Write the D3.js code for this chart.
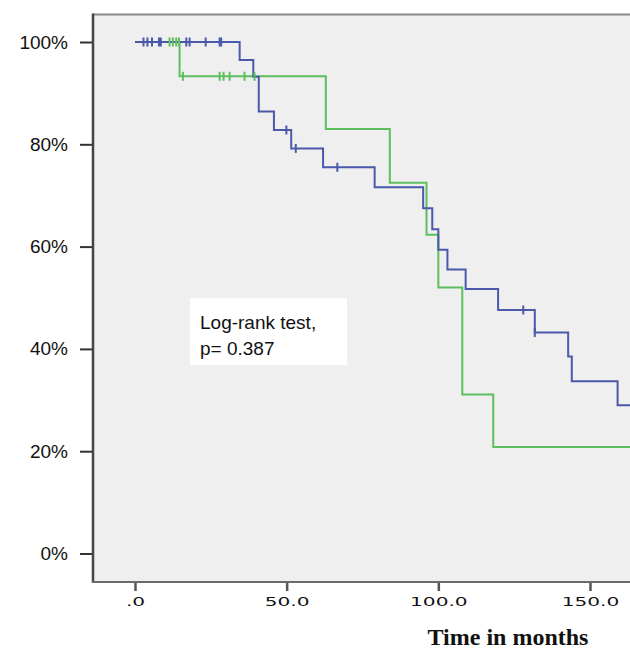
<!DOCTYPE html>
<html>
<head>
<meta charset="utf-8">
<script src="https://cdn.jsdelivr.net/npm/d3@7"></script>
<style>
  html, body { margin: 0; padding: 0; background: #ffffff; }
  svg { display: block; }
</style>
</head>
<body>
<div id="chart"></div>
<script>
// ---- Data ----
// Kaplan-Meier step points: [time in months, cumulative survival]
const blueSteps = [
  [0, 1.0], [34.5, 0.965], [39.0, 0.932], [40.8, 0.864], [45.8, 0.828],
  [51.5, 0.792], [62.0, 0.755], [79.0, 0.716], [95.0, 0.675], [98.0, 0.634],
  [100.0, 0.594], [103.0, 0.555], [109.0, 0.517], [119.7, 0.476],
  [131.8, 0.432], [142.8, 0.385], [144.0, 0.337], [159.1, 0.290]
];
const blueEnd = 166;
const blueCensored = [
  [2.8, 1.0], [4.1, 1.0], [5.6, 1.0], [7.9, 1.0], [8.5, 1.0], [16.9, 1.0],
  [18.0, 1.0], [23.3, 1.0], [27.9, 1.0], [28.4, 1.0],
  [49.9, 0.828], [53.0, 0.792], [66.7, 0.755], [128.0, 0.476], [131.8, 0.432]
];

const greenSteps = [
  [0, 1.0], [14.7, 0.933], [62.9, 0.830], [84.0, 0.725], [96.1, 0.623],
  [100.0, 0.520], [107.9, 0.311], [118.1, 0.208]
];
const greenEnd = 166;
const greenCensored = [
  [11.4, 1.0], [12.5, 1.0], [13.6, 1.0], [14.5, 1.0],
  [15.8, 0.933], [27.9, 0.933], [29.2, 0.933], [31.2, 0.933], [36.1, 0.933], [39.4, 0.933]
];

const xTicks = [0, 50, 100, 150];
const xTickLabels = [".0", "50.0", "100.0", "150.0"];
const yTicks = [0, 0.2, 0.4, 0.6, 0.8, 1.0];
const yTickLabels = ["0%", "20%", "40%", "60%", "80%", "100%"];
const xTitle = "Time in months";
const annotation = ["Log-rank test,", "p= 0.387"];

// ---- Layout ----
const W = 630, H = 649;
const frame = { left: 93, top: 14, right: 660, bottom: 582 };
const blueColor = "#4a59aa";
const greenColor = "#5dbf5d";

const x = d3.scaleLinear().domain([0, 150]).range([135, 590]);
const y = d3.scaleLinear().domain([0, 1]).range([553.5, 42]);

const svg = d3.select("#chart").append("svg")
  .attr("width", W).attr("height", H);

// plot background
svg.append("rect")
  .attr("x", frame.left).attr("y", frame.top)
  .attr("width", frame.right - frame.left).attr("height", frame.bottom - frame.top)
  .attr("fill", "#efefef");

// top border
svg.append("line")
  .attr("x1", frame.left).attr("x2", frame.right)
  .attr("y1", frame.top + 0.5).attr("y2", frame.top + 0.5)
  .attr("stroke", "#8a8a8a").attr("stroke-width", 2);

// annotation box
const box = svg.append("g");
box.append("rect")
  .attr("x", 190).attr("y", 298).attr("width", 157).attr("height", 67)
  .attr("fill", "#ffffff");
box.selectAll("text").data(annotation).join("text")
  .attr("x", 200)
  .attr("y", (d, i) => 329 + i * 26)
  .attr("font-family", "'Liberation Sans', Arial, sans-serif")
  .attr("font-size", 19)
  .attr("fill", "#111")
  .text(d => d);

// step path builder
function stepLine(steps, end) {
  const pts = steps.map(d => [x(d[0]), y(d[1])]);
  pts.push([x(end), y(steps[steps.length - 1][1])]);
  return d3.line().curve(d3.curveStepAfter)(pts);
}

svg.append("path")
  .attr("d", stepLine(greenSteps, greenEnd))
  .attr("fill", "none").attr("stroke", greenColor).attr("stroke-width", 2);

svg.append("path")
  .attr("d", stepLine(blueSteps, blueEnd))
  .attr("fill", "none").attr("stroke", blueColor).attr("stroke-width", 2);

function censorMarks(data, color) {
  svg.append("g").selectAll("line").data(data).join("line")
    .attr("x1", d => x(d[0])).attr("x2", d => x(d[0]))
    .attr("y1", d => y(d[1]) - 4.5).attr("y2", d => y(d[1]) + 4.5)
    .attr("stroke", color).attr("stroke-width", 2);
}
censorMarks(greenCensored, greenColor);
censorMarks(blueCensored, blueColor);

// y axis
const yAxis = d3.axisLeft(y)
  .tickValues(yTicks)
  .tickFormat((d, i) => yTickLabels[i])
  .tickSize(13).tickPadding(12);
const gy = svg.append("g").attr("transform", `translate(${frame.left},0)`).call(yAxis);
gy.select(".domain").remove();
gy.selectAll(".tick line").attr("stroke", "#333").attr("stroke-width", 2);
gy.selectAll(".tick text")
  .attr("font-family", "'Liberation Sans', Arial, sans-serif")
  .attr("font-size", 19).attr("fill", "#111");
svg.append("line")
  .attr("x1", frame.left).attr("x2", frame.left)
  .attr("y1", frame.top - 0.5).attr("y2", frame.bottom + 1)
  .attr("stroke", "#444").attr("stroke-width", 2.5);

// x axis
const xAxis = d3.axisBottom(x)
  .tickValues(xTicks)
  .tickFormat((d, i) => xTickLabels[i])
  .tickSize(9).tickPadding(5);
const gx = svg.append("g").attr("transform", `translate(0,${frame.bottom})`).call(xAxis);
gx.select(".domain").remove();
gx.selectAll(".tick line").attr("stroke", "#555").attr("stroke-width", 2.5);
gx.selectAll(".tick text")
  .attr("font-family", "'DejaVu Sans', sans-serif")
  .attr("font-size", 13)
  .attr("y", 24).attr("dy", null)
  .attr("transform", "scale(1.55,1)")
  .attr("fill", "#111");
svg.append("line")
  .attr("x1", frame.left - 1).attr("x2", frame.right)
  .attr("y1", frame.bottom).attr("y2", frame.bottom)
  .attr("stroke", "#6a6a6a").attr("stroke-width", 2);

// x title
svg.append("text")
  .attr("x", 508).attr("y", 645)
  .attr("text-anchor", "middle")
  .attr("font-family", "'Liberation Serif', 'Times New Roman', serif")
  .attr("font-weight", "bold").attr("font-size", 24)
  .attr("fill", "#111")
  .text(xTitle);
</script>
</body>
</html>
